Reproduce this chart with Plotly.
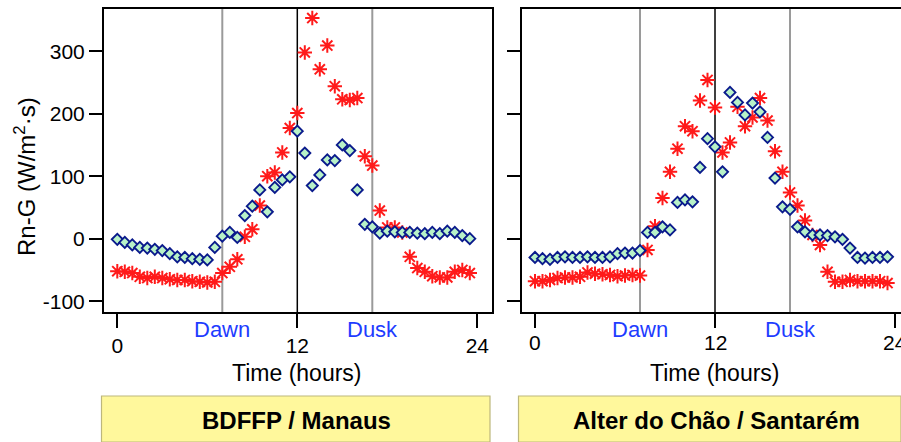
import plotly.graph_objects as go

# ---- data ----
hours = [i * 0.5 for i in range(48)]

manaus_blue = [-1, -6, -10, -14, -15, -17, -19, -24, -29, -30, -32, -33, -34,
               -14, 4, 10, 2, 37, 52, 78, 43, 82, 94, 99,
               172, 137, 85, 102, 126, 125, 150, 141, 78, 23, 19, 9,
               12, 11, 10, 10, 9, 8, 10, 8, 12, 10, 5, 0]
manaus_red = [-52, -53, -55, -61, -63, -61, -63, -65, -66, -66, -68, -69, -70,
              -69, -55, -45, -33, 3, 15, 53, 100, 106, 138, 177,
              201, 298, 353, 271, 309, 244, 223, 222, 225, 132, 117, 45,
              18, 18, 10, -29, -47, -53, -60, -62, -62, -53, -50, -55]

santarem_blue = [-30, -32, -33, -30, -29, -30, -30, -29, -30, -30, -29, -24,
                 -23, -23, -19, 10, 10, 19, 14, 58, 62, 59, 114, 160,
                 147, 107, 234, 218, 198, 217, 203, 162, 97, 51, 47, 19,
                 11, 6, 6, 5, 3, -1, -15, -30, -31, -30, -30, -29]
santarem_red = [-68, -68, -66, -63, -62, -62, -61, -54, -56, -57, -58, -60,
                -59, -58, -59, -18, 20, 65, 107, 144, 180, 172, 221, 254,
                210, 138, 154, 211, 180, 194, 225, 189, 140, 107, 74, 53,
                29, 6, -10, -53, -69, -69, -66, -68, -68, -68, -68, -71]

panel_titles = ["BDFFP / Manaus", "Alter do Chão / Santarém"]
x_ticks = [0, 12, 24]
y_ticks = [-100, 0, 100, 200, 300]
y_ticktext = ["-100", "0", "100", "200", "300"]
dawn, noon, dusk = 7, 12, 17

W, H = 901, 442
FONT = "Arial, Liberation Sans, sans-serif"

fig = go.Figure()

panels = [(manaus_blue, manaus_red, "x", "y"), (santarem_blue, santarem_red, "x2", "y2")]
for blue, red, xa, ya in panels:
    fig.add_trace(go.Scatter(x=hours, y=red, mode="markers", xaxis=xa, yaxis=ya,
                             marker=dict(symbol="asterisk-open", size=12, color="#ff1a1a",
                                         line=dict(color="#ff1a1a", width=2)),
                             showlegend=False, cliponaxis=False))
    fig.add_trace(go.Scatter(x=hours, y=blue, mode="markers", xaxis=xa, yaxis=ya,
                             marker=dict(symbol="diamond", size=8.5, color="#b8f2c8",
                                         line=dict(color="#0a1a8c", width=1.9)),
                             showlegend=False, cliponaxis=False))

ydom = [(H - 312) / H, (H - 9) / H]
yrange = [-117.3, 367.5]
common_x = dict(showline=True, linecolor="black", linewidth=2, mirror=True,
                ticks="outside", ticklen=14, tickwidth=2, tickcolor="black",
                tickvals=x_ticks, showgrid=False, zeroline=False,
                tickfont=dict(family=FONT, size=21, color="black"))
common_y = dict(showline=True, linecolor="black", linewidth=2,
                ticks="outside", ticklen=13, tickwidth=2, tickcolor="black",
                tickvals=y_ticks, ticktext=y_ticktext, showgrid=False, zeroline=False,
                range=yrange, domain=ydom,
                tickfont=dict(family=FONT, size=21, color="black"))

fig.update_layout(
    width=W, height=H, margin=dict(l=0, r=0, t=0, b=0),
    paper_bgcolor="white", plot_bgcolor="rgba(0,0,0,0)",
    xaxis=dict(common_x, domain=[104 / W, 492 / W], range=[-0.887, 24.98], anchor="y"),
    yaxis=dict(common_y, mirror=True, anchor="x"),
    xaxis2=dict(common_x, domain=[522 / W, 1.0], range=[-0.867, 24.4], anchor="y2",
                showticklabels=False),
    yaxis2=dict(common_y, mirror=False, showticklabels=False, anchor="x2"),
)

shapes = []
annotations = []
# right-panel x tick labels (the last one runs off the page edge, as in the original)
for xv in x_ticks:
    annotations.append(dict(x=xv, xref="x2", y=(H - 342) / H, yref="paper",
                            text=str(xv), showarrow=False, xanchor="center",
                            yanchor="middle",
                            font=dict(family=FONT, size=21, color="black")))

for i, (xa, ya) in enumerate([("x", "y"), ("x2", "y2")]):
    for xv, col, wd in [(dawn, "#9a9a9a", 2), (dusk, "#9a9a9a", 2), (noon, "black", 1.5)]:
        shapes.append(dict(type="line", xref=xa, yref=ya + " domain", x0=xv, x1=xv,
                           y0=0, y1=1, line=dict(color=col, width=wd), layer="below"))
    for xv, txt in [(dawn, "Dawn"), (dusk, "Dusk")]:
        annotations.append(dict(x=xv, xref=xa, y=(H - 329) / H, yref="paper",
                                text=txt, showarrow=False, xanchor="center", yanchor="middle",
                                font=dict(family=FONT, size=22, color="#1e3cff")))
    cx = 297 if i == 0 else 715
    annotations.append(dict(x=cx / W, xref="paper", y=(H - 373) / H, yref="paper",
                            text="Time (hours)", showarrow=False, xanchor="center",
                            yanchor="middle", font=dict(family=FONT, size=23, color="black")))

# label boxes
for x0, x1, title, cx in [(101.5, 490, panel_titles[0], 296), (518.5, 901, panel_titles[1], 716)]:
    shapes.append(dict(type="rect", xref="paper", yref="paper",
                       x0=x0 / W, x1=x1 / W, y0=0, y1=(H - 396) / H,
                       fillcolor="#fff89c", line=dict(color="#bdb77c", width=1.2)))
    annotations.append(dict(x=cx / W, xref="paper", y=(H - 420) / H, yref="paper",
                            text="<b>" + title + "</b>", showarrow=False,
                            xanchor="center", yanchor="middle",
                            font=dict(family=FONT, size=24, color="black")))

annotations.append(dict(x=25 / W, xref="paper", y=(H - 177) / H, yref="paper",
                        text="Rn-G (W/m<sup>2</sup>·s)", textangle=-90, showarrow=False,
                        xanchor="center", yanchor="middle",
                        font=dict(family=FONT, size=24, color="black")))

fig.update_layout(shapes=shapes, annotations=annotations)
fig.write_html("out.html", config={"displayModeBar": False},
               post_script="document.documentElement.style.overflow='hidden';"
                           "document.body.style.margin='0';document.body.style.overflow='hidden';")
